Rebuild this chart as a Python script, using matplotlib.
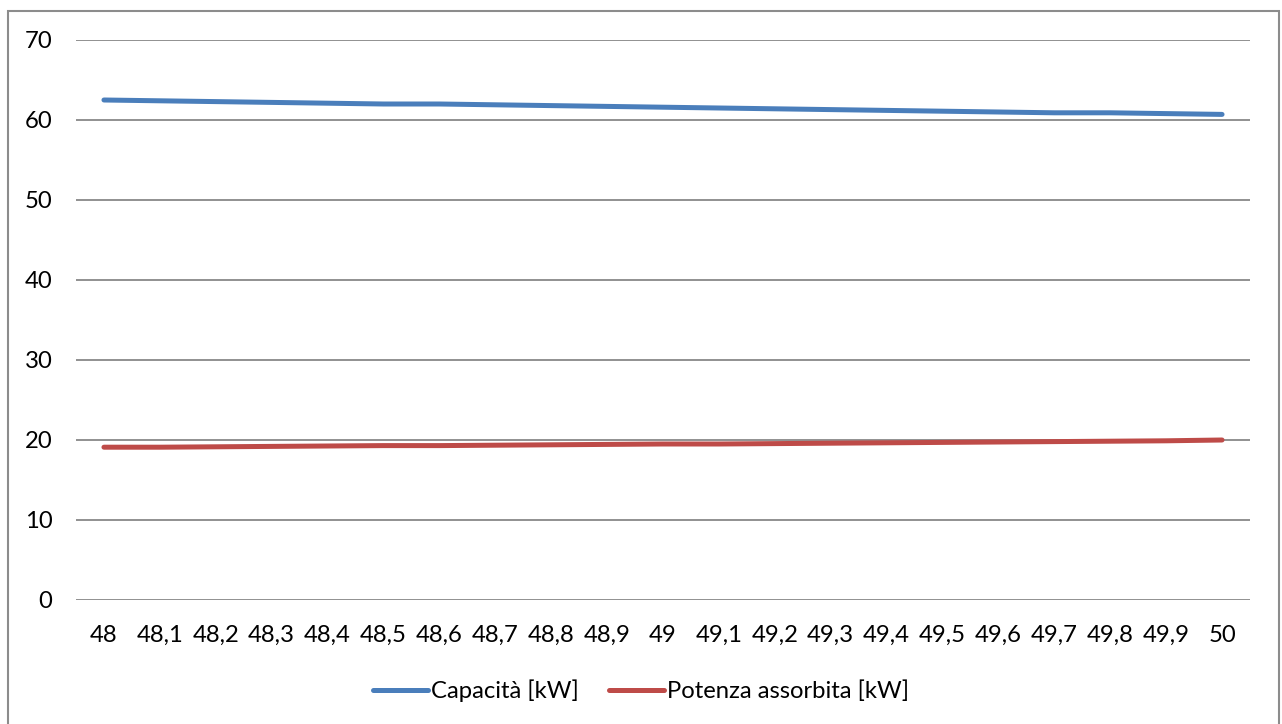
import matplotlib
matplotlib.use("Agg")
import matplotlib.pyplot as plt
from matplotlib.patches import Rectangle

plt.rcParams['font.family'] = ['Lato', 'DejaVu Sans']

categories = ["48", "48,1", "48,2", "48,3", "48,4", "48,5", "48,6", "48,7", "48,8", "48,9",
              "49", "49,1", "49,2", "49,3", "49,4", "49,5", "49,6", "49,7", "49,8", "49,9", "50"]
capacita = [62.5, 62.4, 62.3, 62.2, 62.1, 62.0, 62.0, 61.9, 61.8, 61.7,
            61.6, 61.5, 61.4, 61.3, 61.2, 61.1, 61.0, 60.9, 60.9, 60.8, 60.7]
potenza = [19.1, 19.1, 19.15, 19.2, 19.25, 19.3, 19.3, 19.35, 19.4, 19.45,
           19.5, 19.5, 19.55, 19.6, 19.65, 19.7, 19.75, 19.8, 19.85, 19.9, 20.0]
y_ticks = [0, 10, 20, 30, 40, 50, 60, 70]

W, H = 1282, 724
FS = 17.2
fig = plt.figure(figsize=(W / 100, H / 100), dpi=100)
fig.patch.set_facecolor("white")

# outer chart frame
fig.patches.append(Rectangle((8 / W, -0.01), (1279 - 8) / W, (H - 11) / H + 0.01,
                             transform=fig.transFigure, fill=False,
                             edgecolor="#8c8c8c", linewidth=1.5))

ax = fig.add_axes([76 / W, (H - 600) / H, (1250 - 76) / W, 560 / H])
x = list(range(len(categories)))
ax.plot(x, capacita, color="#4A7EBB", linewidth=3.6, solid_capstyle="round",
        label="Capacità [kW]")
ax.plot(x, potenza, color="#BE4B48", linewidth=3.6, solid_capstyle="round",
        label="Potenza assorbita [kW]")

ax.set_xlim(-0.5, len(categories) - 0.5)
ax.set_ylim(0, 70)
ax.set_yticks(y_ticks)
ax.set_xticks(x)
ax.set_xticklabels(categories)
ax.yaxis.grid(True, color="#888888", linewidth=1.3)
ax.set_axisbelow(True)
for s in ax.spines.values():
    s.set_visible(False)
ax.tick_params(axis="both", length=0, labelsize=FS, colors="black")
ax.tick_params(axis="y", pad=17)
ax.tick_params(axis="x", pad=18)

fig.legend(loc="center", bbox_to_anchor=(0.5, (H - 691) / H), ncol=2,
           frameon=False, fontsize=FS, handlelength=2.3, handletextpad=0.1,
           columnspacing=1.3)

fig.savefig("out.png", dpi=100, facecolor="white")
